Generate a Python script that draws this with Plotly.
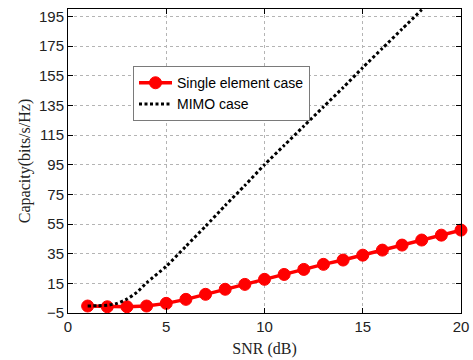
import plotly.graph_objects as go

snr = list(range(1, 21))
single = [-0.3, -0.8, -0.8, -0.3, 1.5, 4.2, 7.6, 11.0, 14.3, 17.7, 21.0, 24.4,
          27.8, 30.7, 34.0, 37.4, 40.8, 44.2, 47.5, 50.9]
mimo_x = [1, 1.5, 2, 2.5, 3, 3.5, 4, 5, 6, 7, 8, 9, 10, 11, 12, 13, 14, 15, 16, 17, 18, 19, 20]
mimo = [-0.3, -0.1, 0.2, 1.5, 4.4, 8.9, 15.4, 26.5, 40.0, 53.5, 67.5, 81.0, 95.0, 108.0,
        121.0, 134.0, 147.0, 160.5, 173.5, 186.5, 199.5, 212.5, 225.5]

x_ticks = [0, 5, 10, 15, 20]
y_ticks = [-5, 15, 35, 55, 75, 95, 115, 135, 155, 175, 195]

fig = go.Figure()
fig.add_trace(go.Scatter(
    x=snr, y=single, mode="lines+markers", name="Single element case",
    line=dict(color="#ff0000", width=3.5),
    marker=dict(color="#ff0000", size=12, line=dict(color="#ff0000", width=1)),
    cliponaxis=False,
))
fig.add_trace(go.Scatter(
    x=mimo_x, y=mimo, mode="lines", name="MIMO case",
    line=dict(color="#000000", width=3, dash="3px,2.5px", shape="spline", smoothing=0.6),
))

axis_common = dict(
    showline=True, linecolor="#000000", linewidth=1, mirror="ticks",
    ticks="inside", ticklen=5, tickcolor="#000000",
    showgrid=True, gridcolor="#b4b4b4", griddash="dot", gridwidth=1,
    zeroline=False, automargin=False,
    tickfont=dict(family="Liberation Sans, Arial, sans-serif", size=15, color="#222222"),
)

fig.update_xaxes(
    range=[0, 20], tickvals=x_ticks,
    title=dict(text="SNR (dB)", font=dict(family="Liberation Serif, Times New Roman, serif",
                                           size=16, color="#222222"), standoff=8),
    **axis_common,
)
fig.update_yaxes(
    range=[-5, 200], tickvals=y_ticks,
    title=dict(text="Capacity(bits/s/Hz)", font=dict(family="Liberation Serif, Times New Roman, serif",
                                                      size=16, color="#222222"), standoff=4),
    **axis_common,
)

fig.update_layout(
    template="none",
    width=473, height=360,
    margin=dict(l=68, r=12, t=9, b=47),
    plot_bgcolor="#ffffff", paper_bgcolor="#ffffff",
    legend=dict(
        x=0.1654, y=0.812, xanchor="left", yanchor="top",
        bgcolor="#ffffff", bordercolor="#7a7a7a", borderwidth=1,
        font=dict(family="Liberation Sans, Arial, sans-serif", size=14, color="#000000"),
        tracegroupgap=0, itemwidth=33,
    ),
)

fig.write_html("out.html")
